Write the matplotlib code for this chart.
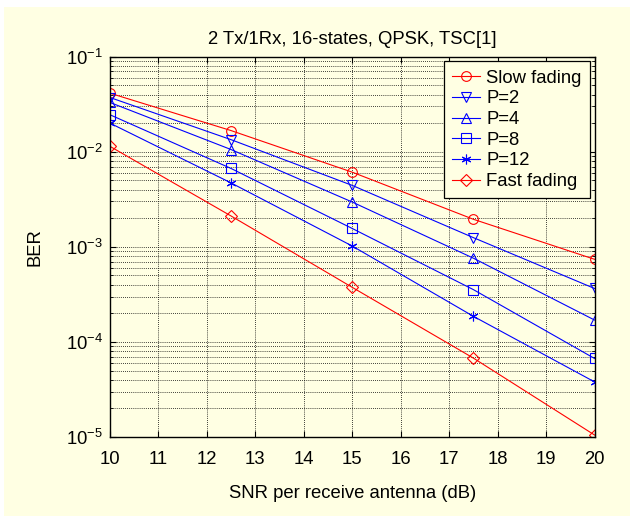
import matplotlib
matplotlib.use("Agg")
import matplotlib.pyplot as plt
from matplotlib.patches import Rectangle
from matplotlib.ticker import LogLocator, NullFormatter

plt.rcParams['font.family'] = ['Liberation Sans', 'DejaVu Sans']
plt.rcParams['mathtext.fontset'] = 'custom'
plt.rcParams['mathtext.rm'] = 'Liberation Sans'

snr = [10, 12.5, 15, 17.5, 20]
slow_fading = [0.0413, 0.0167, 0.0061, 0.00195, 0.00074]
p2 = [0.0372, 0.0134, 0.00443, 0.00125, 0.000365]
p4 = [0.0330, 0.01055, 0.00296, 0.00076, 0.00017]
p8 = [0.0245, 0.00667, 0.00156, 0.000355, 0.000067]
p12 = [0.0200, 0.0047, 0.00102, 0.000186, 0.000038]
fast_fading = [0.0114, 0.00211, 0.000375, 0.0000676, 0.0000105]

bg = '#FFFFE3'
fs = 13.3

fig = plt.figure(figsize=(6.3, 5.16), dpi=100, facecolor='white')
# beige panel, thin white strip at top and left like the screenshot
fig.patches.append(Rectangle((4 / 630, 0), 1, 1 - 7 / 516, transform=fig.transFigure,
                             facecolor=bg, edgecolor='none', zorder=-10))
ax = fig.add_axes([110 / 630, 1 - 437 / 516, 484.5 / 630, 380.3 / 516])
ax.set_facecolor(bg)

ms = 7
lw = 0.8
mew = 0.8
asterisk = (6, 2, 0)
ax.semilogy(snr, slow_fading, 'o-', color='red', mfc='none', ms=ms, lw=lw, mew=mew, label='Slow fading')
ax.semilogy(snr, p2, 'v-', color='blue', mfc='none', ms=ms, lw=lw, mew=mew, label='P=2')
ax.semilogy(snr, p4, '^-', color='blue', mfc='none', ms=ms, lw=lw, mew=mew, label='P=4')
ax.semilogy(snr, p8, 's-', color='blue', mfc='none', ms=ms, lw=lw, mew=mew, label='P=8')
ax.semilogy(snr, p12, linestyle='-', marker=asterisk, color='blue', ms=ms, lw=lw, mew=mew, label='P=12')
ax.semilogy(snr, fast_fading, 'D-', color='red', mfc='none', ms=6, lw=lw, mew=mew, label='Fast fading')

ax.set_xlim(10, 20)
ax.set_ylim(1e-5, 1e-1)
ax.set_xticks(range(10, 21))
ax.yaxis.set_major_locator(LogLocator(base=10, numticks=10))
ax.yaxis.set_minor_locator(LogLocator(base=10, subs=range(2, 10), numticks=20))
ax.yaxis.set_minor_formatter(NullFormatter())
ax.tick_params(which='both', direction='in', top=True, right=True, labelsize=fs, color='black')
ax.tick_params(which='major', length=4)
ax.tick_params(which='minor', length=2)
ax.tick_params(axis='x', pad=10)
ax.tick_params(axis='y', pad=5)
ax.grid(True, which='both', linestyle=(0, (1, 1.5)), color='black', linewidth=0.6)
for s in ax.spines.values():
    s.set_linewidth(1.0)

ax.set_title('2 Tx/1Rx, 16-states, QPSK, TSC[1]', fontsize=fs, pad=9)
ax.set_xlabel('SNR per receive antenna (dB)', fontsize=fs, labelpad=12)
ax.set_ylabel('BER', fontsize=fs, labelpad=16)

leg = ax.legend(loc='upper right', fontsize=fs, fancybox=False, edgecolor='black',
                framealpha=1, facecolor=bg, borderaxespad=0.25, handlelength=1.5,
                labelspacing=0.2, handletextpad=0.35, borderpad=0.45)
leg.get_frame().set_linewidth(0.9)

fig.savefig('out.png', dpi=100, facecolor=fig.get_facecolor())
